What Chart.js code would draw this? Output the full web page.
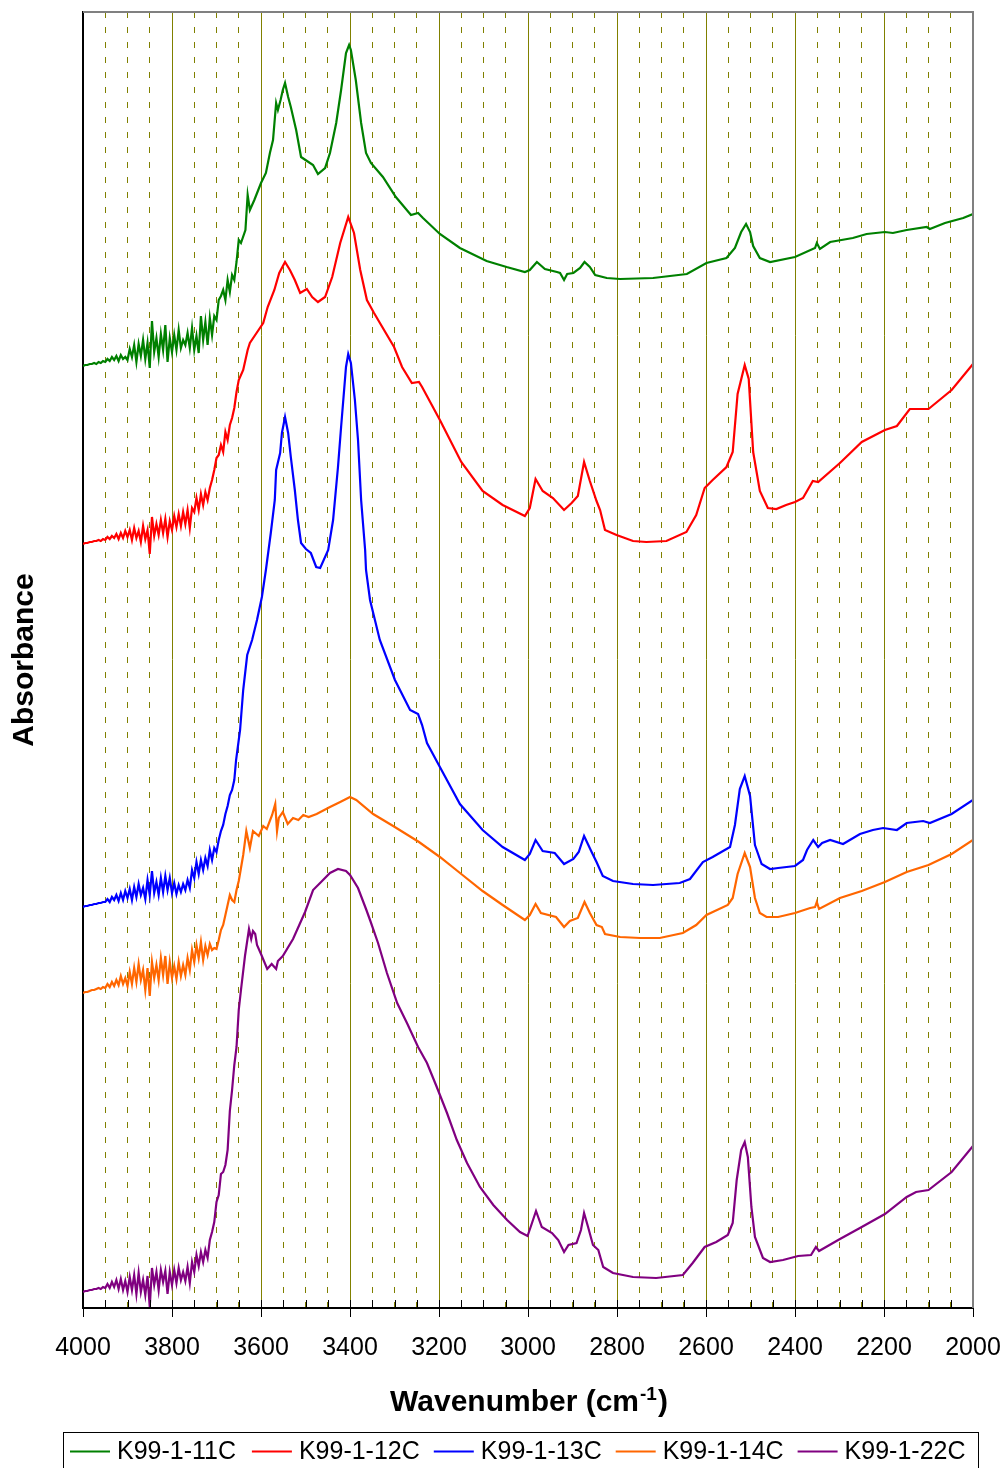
<!DOCTYPE html>
<html>
<head>
<meta charset="utf-8">
<script src="https://cdn.jsdelivr.net/npm/chart.js@4.4.1/dist/chart.umd.min.js"></script>
<style>
  html, body { margin: 0; padding: 0; background: #fff; }
  #wrap { width: 1007px; height: 1468px; }
</style>
</head>
<body>
<div id="wrap"><canvas id="ftir" width="1007" height="1468"></canvas></div>
<script>
// FTIR spectra, [wavenumber cm-1, absorbance (arb. units, curves offset)]
const k11 = [[4000,942],[3995,943],[3990,943],[3985,944],[3980,944],[3975,945],[3970,944],[3965,946],[3960,945],[3955,947],[3950,946],[3945,949],[3940,947],[3935,951],[3930,948],[3925,952],[3920,947],[3915,953],[3910,949],[3905,951],[3900,948],[3895,959],[3890,951],[3885,963],[3880,946],[3875,964],[3870,952],[3865,968],[3860,949],[3855,965],[3850,940],[3845,987],[3840,956],[3835,970],[3830,951],[3825,974],[3820,958],[3815,983],[3810,946],[3805,970],[3800,956],[3795,973],[3790,958],[3785,978],[3780,960],[3775,968],[3770,963],[3765,975],[3760,960],[3755,980],[3750,958],[3745,972],[3740,955],[3735,992],[3730,968],[3725,986],[3720,963],[3715,990],[3710,973],[3705,992],[3700,988],[3695,1008],[3690,1012],[3685,1018],[3680,1008],[3675,1028],[3670,1016],[3665,1033],[3660,1028],[3655,1046],[3650,1068],[3645,1065],[3635,1078],[3630,1113],[3625,1098],[3615,1108],[3600,1125],[3589,1135],[3580,1155],[3573,1168],[3566,1205],[3562,1198],[3556,1208],[3551,1218],[3546,1225],[3539,1211],[3533,1201],[3521,1178],[3510,1151],[3500,1148],[3483,1143],[3472,1134],[3456,1140],[3445,1155],[3431,1185],[3420,1218],[3409,1255],[3402,1263],[3398,1258],[3387,1228],[3375,1185],[3364,1155],[3353,1145],[3326,1131],[3297,1111],[3263,1093],[3247,1095],[3236,1090],[3198,1074],[3153,1060],[3093,1047],[3048,1041],[3007,1036],[2996,1038],[2980,1046],[2962,1039],[2935,1036],[2928,1035],[2919,1028],[2912,1034],[2898,1035],[2883,1040],[2873,1046],[2861,1041],[2849,1033],[2823,1030],[2793,1029],[2719,1030],[2643,1034],[2599,1045],[2554,1050],[2535,1060],[2521,1076],[2510,1084],[2501,1076],[2494,1062],[2479,1050],[2456,1046],[2400,1051],[2355,1060],[2351,1065],[2344,1059],[2321,1066],[2270,1070],[2239,1074],[2198,1076],[2180,1075],[2149,1078],[2104,1081],[2097,1079],[2063,1085],[2022,1090],[2000,1094]];

const k12 = [[4000,764],[3995,765],[3990,765],[3985,766],[3980,766],[3975,767],[3970,767],[3965,768],[3960,767],[3955,769],[3950,768],[3945,771],[3940,769],[3935,772],[3930,770],[3925,774],[3920,769],[3915,775],[3910,770],[3905,777],[3900,771],[3895,778],[3890,768],[3885,780],[3880,770],[3875,777],[3870,766],[3865,782],[3860,769],[3855,778],[3850,754],[3845,791],[3840,772],[3835,784],[3830,773],[3825,788],[3820,775],[3815,789],[3810,771],[3805,787],[3800,778],[3795,792],[3790,781],[3785,794],[3780,782],[3775,796],[3770,784],[3765,798],[3760,780],[3755,800],[3750,796],[3745,810],[3740,798],[3735,814],[3730,803],[3725,816],[3720,808],[3715,820],[3710,828],[3705,838],[3700,850],[3695,853],[3690,863],[3685,856],[3680,876],[3675,868],[3670,883],[3665,890],[3660,900],[3655,916],[3650,928],[3640,938],[3630,958],[3625,965],[3610,975],[3595,985],[3585,1001],[3570,1018],[3559,1035],[3546,1046],[3535,1038],[3524,1028],[3512,1015],[3497,1019],[3485,1011],[3472,1006],[3456,1011],[3440,1031],[3422,1065],[3404,1091],[3391,1075],[3377,1038],[3362,1008],[3346,995],[3301,961],[3283,941],[3261,925],[3245,926],[3238,921],[3198,888],[3150,846],[3102,817],[3057,803],[3007,792],[2996,800],[2983,829],[2967,817],[2944,810],[2919,798],[2902,805],[2888,812],[2874,846],[2861,827],[2846,807],[2838,798],[2827,778],[2801,773],[2764,767],[2734,766],[2689,767],[2644,776],[2622,793],[2603,820],[2585,828],[2554,841],[2540,856],[2529,914],[2513,943],[2504,929],[2494,856],[2479,817],[2461,800],[2442,799],[2420,803],[2400,806],[2382,810],[2360,827],[2348,826],[2299,845],[2250,866],[2198,878],[2171,882],[2142,899],[2100,899],[2048,918],[2000,944]];

const k13 = [[4000,401],[3995,402],[3990,402],[3985,403],[3980,403],[3975,404],[3970,404],[3965,405],[3960,405],[3955,406],[3950,406],[3945,409],[3940,406],[3935,411],[3930,408],[3925,413],[3920,407],[3915,415],[3910,408],[3905,417],[3900,410],[3895,419],[3890,408],[3885,421],[3880,411],[3875,424],[3870,413],[3865,420],[3860,409],[3855,428],[3850,413],[3845,437],[3840,415],[3835,426],[3830,413],[3825,430],[3820,416],[3815,432],[3810,418],[3805,430],[3800,415],[3795,425],[3790,414],[3785,423],[3780,416],[3775,424],[3770,418],[3765,428],[3760,420],[3755,438],[3750,430],[3745,446],[3740,434],[3735,448],[3730,438],[3725,450],[3720,442],[3715,458],[3710,448],[3705,460],[3700,456],[3695,468],[3690,477],[3685,483],[3680,494],[3675,502],[3670,513],[3665,518],[3660,528],[3656,548],[3647,578],[3640,618],[3631,653],[3620,668],[3609,688],[3598,711],[3589,738],[3578,775],[3569,808],[3566,838],[3557,855],[3553,875],[3546,891],[3539,875],[3533,851],[3524,818],[3517,788],[3510,765],[3499,759],[3488,755],[3476,741],[3467,740],[3449,758],[3438,788],[3427,841],[3420,881],[3409,941],[3404,954],[3398,945],[3389,908],[3382,868],[3375,808],[3366,758],[3364,738],[3355,708],[3333,668],[3299,628],[3265,598],[3256,596],[3247,594],[3238,583],[3227,565],[3198,541],[3153,504],[3102,478],[3057,461],[3007,448],[2996,454],[2983,468],[2967,457],[2940,455],[2919,444],[2898,449],[2886,456],[2874,472],[2857,456],[2846,446],[2832,432],[2809,427],[2764,424],[2719,423],[2659,425],[2636,429],[2607,446],[2585,451],[2546,461],[2535,483],[2524,519],[2513,532],[2501,512],[2490,463],[2475,444],[2456,439],[2438,440],[2400,442],[2382,448],[2373,458],[2359,468],[2348,461],[2339,465],[2321,468],[2292,464],[2254,474],[2225,478],[2202,480],[2171,478],[2149,485],[2112,487],[2097,485],[2048,494],[2000,508]];

const k14 = [[4000,315],[3995,316],[3990,316],[3985,317],[3980,318],[3975,318],[3970,319],[3965,320],[3960,319],[3955,321],[3950,320],[3945,324],[3940,321],[3935,326],[3930,322],[3925,328],[3920,323],[3915,332],[3910,324],[3905,330],[3900,322],[3895,336],[3890,324],[3885,340],[3880,326],[3875,344],[3870,328],[3865,338],[3860,318],[3855,340],[3850,312],[3845,346],[3840,330],[3835,343],[3830,328],[3825,350],[3820,333],[3815,352],[3810,324],[3805,346],[3800,330],[3795,342],[3790,329],[3785,346],[3780,332],[3775,343],[3770,333],[3765,350],[3760,338],[3755,358],[3750,346],[3745,363],[3740,350],[3735,366],[3730,348],[3725,362],[3720,353],[3715,364],[3710,358],[3705,360],[3700,359],[3695,368],[3690,378],[3685,383],[3680,393],[3675,403],[3670,413],[3665,408],[3660,406],[3655,418],[3650,427],[3645,440],[3640,453],[3633,477],[3625,460],[3618,477],[3605,472],[3595,482],[3587,479],[3575,493],[3568,504],[3564,477],[3560,490],[3551,496],[3540,484],[3528,490],[3516,488],[3505,493],[3493,491],[3475,494],[3445,501],[3422,506],[3400,511],[3386,508],[3348,494],[3303,482],[3245,466],[3198,451],[3150,434],[3102,417],[3057,403],[3007,388],[2996,393],[2983,404],[2971,395],[2937,391],[2919,381],[2906,387],[2888,390],[2873,406],[2861,395],[2846,383],[2834,381],[2827,374],[2793,371],[2748,370],[2704,370],[2652,375],[2622,383],[2599,393],[2551,403],[2540,410],[2529,434],[2513,455],[2501,441],[2490,410],[2479,395],[2464,391],[2438,391],[2400,395],[2366,400],[2355,401],[2351,406],[2346,399],[2299,410],[2250,417],[2198,426],[2149,436],[2100,443],[2048,454],[2000,468]];

const k22 = [[4000,16],[3995,17],[3990,17],[3985,18],[3980,18],[3975,19],[3970,19],[3965,20],[3960,19],[3955,21],[3950,20],[3945,24],[3940,20],[3935,26],[3930,21],[3925,28],[3920,19],[3915,29],[3910,18],[3905,27],[3900,16],[3895,31],[3890,18],[3885,33],[3880,14],[3875,35],[3870,16],[3865,28],[3860,13],[3855,32],[3850,1],[3845,40],[3840,23],[3835,36],[3830,18],[3825,38],[3820,26],[3815,37],[3810,14],[3805,36],[3800,23],[3795,38],[3790,25],[3785,40],[3780,28],[3775,36],[3770,27],[3765,41],[3760,25],[3755,46],[3750,36],[3745,53],[3740,42],[3735,56],[3730,46],[3725,58],[3720,50],[3715,68],[3710,76],[3705,86],[3700,106],[3695,113],[3690,134],[3685,136],[3680,143],[3675,158],[3670,197],[3665,218],[3660,243],[3655,261],[3650,298],[3645,318],[3636,352],[3627,379],[3622,369],[3618,377],[3613,374],[3609,363],[3600,354],[3586,339],[3576,344],[3566,339],[3562,347],[3551,352],[3528,369],[3501,396],[3483,418],[3465,426],[3445,435],[3427,439],[3409,437],[3400,433],[3382,420],[3364,399],[3355,388],[3337,365],[3317,335],[3294,305],[3272,285],[3247,261],[3227,245],[3205,221],[3182,195],[3160,168],[3137,145],[3108,121],[3078,103],[3047,88],[3018,76],[3001,72],[2991,85],[2982,97],[2969,81],[2946,75],[2932,68],[2919,56],[2909,63],[2891,65],[2881,78],[2874,95],[2865,81],[2854,63],[2842,58],[2831,41],[2809,35],[2764,31],[2712,30],[2652,33],[2630,45],[2603,61],[2577,66],[2551,73],[2540,85],[2531,128],[2521,158],[2513,166],[2506,151],[2498,101],[2490,71],[2472,50],[2456,46],[2427,48],[2393,52],[2364,53],[2353,61],[2346,57],[2299,69],[2250,81],[2198,94],[2149,111],[2128,116],[2100,118],[2048,136],[2000,162]];

const seriesNames = ['K99-1-11C', 'K99-1-12C', 'K99-1-13C', 'K99-1-14C', 'K99-1-22C'];
const seriesData = [k11, k12, k13, k14, k22];
const seriesColors = ['#008000', '#FF0000', '#0000FF', '#FF6600', '#800080'];
const labelledTicks = [4000, 3800, 3600, 3400, 3200, 3000, 2800, 2600, 2400, 2200, 2000];

const FONT = '"Liberation Sans", Arial, sans-serif';
const OLIVE = '#808000';

const datasets = seriesData.map((pts, i) => ({
  label: seriesNames[i],
  data: pts.map(([x, y]) => ({ x, y })),
  borderColor: seriesColors[i],
  backgroundColor: seriesColors[i],
  borderWidth: 2.2,
  pointRadius: 0,
  tension: 0,
  fill: false
}));

// frame, inner minor ticks, axis titles and the boxed legend
const decorations = {
  id: 'decorations',
  afterDraw(chart) {
    const { ctx, chartArea: a } = chart;
    const xs = chart.scales.x;
    ctx.save();

    ctx.strokeStyle = '#000';
    ctx.lineWidth = 1;
    xs.ticks.forEach(t => {
      const px = Math.round(xs.getPixelForValue(t.value)) + 0.5;
      ctx.beginPath();
      ctx.moveTo(px, a.bottom - 8);
      ctx.lineTo(px, a.bottom);
      ctx.stroke();
    });

    ctx.strokeStyle = '#808080';
    ctx.lineWidth = 2;
    ctx.beginPath();
    ctx.moveTo(a.left, a.top);
    ctx.lineTo(a.right, a.top);
    ctx.lineTo(a.right, a.bottom);
    ctx.stroke();

    // x title with superscript
    ctx.fillStyle = '#000';
    ctx.textBaseline = 'alphabetic';
    ctx.textAlign = 'left';
    const mainFont = 'bold 30px ' + FONT, supFont = 'bold 19px ' + FONT;
    ctx.font = mainFont;
    const t1 = 'Wavenumber (cm', t3 = ')';
    const w1 = ctx.measureText(t1).width, w3 = ctx.measureText(t3).width;
    ctx.font = supFont;
    const w2 = ctx.measureText('-1').width;
    let tx = (a.left + a.right) / 2 - (w1 + w2 + w3) / 2;
    ctx.font = mainFont;
    ctx.fillText(t1, tx, 1411);
    ctx.font = supFont;
    ctx.fillText('-1', tx + w1 + 1, 1400);
    ctx.font = mainFont;
    ctx.fillText(t3, tx + w1 + w2 + 2, 1411);

    // y title
    ctx.save();
    ctx.translate(25, (a.top + a.bottom) / 2);
    ctx.rotate(-Math.PI / 2);
    ctx.textAlign = 'center';
    ctx.textBaseline = 'middle';
    ctx.font = 'bold 30px ' + FONT;
    ctx.fillText('Absorbance', 0, 0);
    ctx.restore();

    // legend
    ctx.strokeStyle = '#000';
    ctx.lineWidth = 1;
    ctx.strokeRect(63.5, 1432.5, 915, 60);
    ctx.font = '25px ' + FONT;
    ctx.textBaseline = 'middle';
    chart.data.datasets.forEach((ds, i) => {
      const lx = 70 + i * 181.9;
      ctx.strokeStyle = ds.borderColor;
      ctx.lineWidth = 2;
      ctx.beginPath();
      ctx.moveTo(lx, 1451.5);
      ctx.lineTo(lx + 40, 1451.5);
      ctx.stroke();
      ctx.fillStyle = '#000';
      ctx.fillText(ds.label, lx + 47, 1452);
    });
    ctx.restore();
  }
};

new Chart(document.getElementById('ftir'), {
  type: 'line',
  data: { datasets },
  options: {
    responsive: false,
    animation: false,
    devicePixelRatio: 1,
    layout: { padding: { top: 12, right: 34, left: 0, bottom: 0 } },
    plugins: { legend: { display: false }, tooltip: { enabled: false } },
    scales: {
      x: {
        type: 'linear',
        reverse: true,
        min: 2000,
        max: 4000,
        afterFit: s => { s.height = 160; s.paddingLeft = 0; s.paddingRight = 0; },
        ticks: {
          stepSize: 50,
          autoSkip: false,
          maxRotation: 0,
          padding: 16,
          color: '#000',
          font: { family: FONT, size: 25 },
          callback: v => labelledTicks.includes(v) ? String(v) : ''
        },
        grid: {
          color: OLIVE,
          lineWidth: 1,
          drawTicks: true,
          tickLength: 9,
          tickColor: c => (c.tick && c.tick.value % 200 === 0) ? '#000' : 'rgba(0,0,0,0)'
        },
        border: {
          display: true,
          color: '#000',
          width: 2,
          dash: c => (c.tick && c.tick.value % 200 !== 0) ? [6, 9] : []
        }
      },
      y: {
        min: 0,
        max: 1296,
        afterFit: s => { s.width = 83; },
        ticks: { display: false },
        grid: { display: false, drawTicks: false },
        border: { display: true, color: '#000', width: 2 }
      }
    }
  },
  plugins: [decorations]
});
</script>
</body>
</html>
